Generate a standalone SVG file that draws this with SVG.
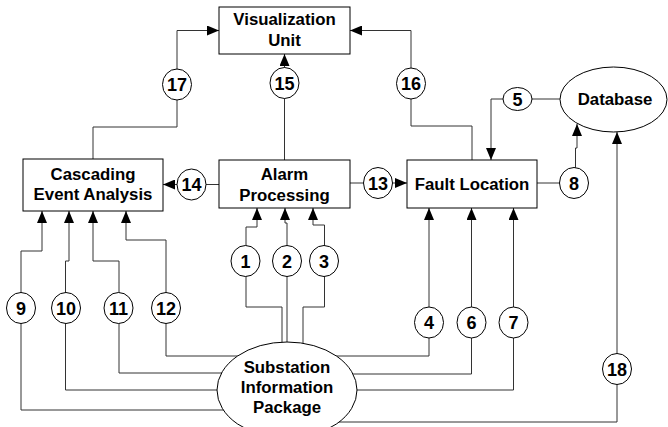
<svg xmlns="http://www.w3.org/2000/svg" width="668" height="427" viewBox="0 0 668 427">
<style>
.box{fill:#fff;stroke:#000;stroke-width:1}
.ell{fill:#fff;stroke:#000;stroke-width:1}
.c{fill:#fff;stroke:#000;stroke-width:1}
.ln{fill:none;stroke:#333;stroke-width:1}
.t{font-family:"Liberation Sans",Arial,sans-serif;font-weight:bold;font-size:16.8px;text-anchor:middle;fill:#000}
.n{font-family:"Liberation Sans",Arial,sans-serif;font-weight:bold;font-size:18px;text-anchor:middle;fill:#000}
</style>
<defs>
<marker id="arr" markerUnits="userSpaceOnUse" markerWidth="12" markerHeight="10" refX="12" refY="5" orient="auto">
<path d="M0 0 L12 5 L0 10 z" fill="#000"/>
</marker>
</defs>
<rect width="668" height="427" fill="#fff"/>
<g id="connectors">
<path class="ln" d="M93 159 V127 H177 V30.5 H219" marker-end="url(#arr)"/>
<path class="ln" d="M284.5 160 V54" marker-end="url(#arr)"/>
<path class="ln" d="M472 160 V126 H411 V30.5 H350" marker-end="url(#arr)"/>
<path class="ln" d="M560 99 H491 V160" marker-end="url(#arr)"/>
<path class="ln" d="M219 184.5 H163" marker-end="url(#arr)"/>
<path class="ln" d="M350 183 H407" marker-end="url(#arr)"/>
<path class="ln" d="M537 183 H575.5 V148 H577 V124" marker-end="url(#arr)"/>
<path class="ln" d="M287 422 H617 V132" marker-end="url(#arr)"/>
<path class="ln" d="M287 410 H21 V251 H42 V211" marker-end="url(#arr)"/>
<path class="ln" d="M287 390 H65.5 V261 H69 V211" marker-end="url(#arr)"/>
<path class="ln" d="M287 373 H119 V261 H93 V211" marker-end="url(#arr)"/>
<path class="ln" d="M287 356 H166 V240 H126 V211" marker-end="url(#arr)"/>
<path class="ln" d="M282 350 V307 H246 V227 H257 V208" marker-end="url(#arr)"/>
<path class="ln" d="M287 350 V223 H285 V208" marker-end="url(#arr)"/>
<path class="ln" d="M303 350 V307 H324.5 V225 H313 V208" marker-end="url(#arr)"/>
<path class="ln" d="M287 356 H429 V208" marker-end="url(#arr)"/>
<path class="ln" d="M287 374 H471.5 V208" marker-end="url(#arr)"/>
<path class="ln" d="M287 390 H513.5 V208" marker-end="url(#arr)"/>
</g>
<g id="visualization-unit">
<rect class="box" x="219" y="7" width="131" height="47"/>
<text class="t" x="284.5" y="25">Visualization</text>
<text class="t" x="284.5" y="46">Unit</text>
</g>
<g id="cascading-event-analysis">
<rect class="box" x="23" y="159" width="140" height="52"/>
<text class="t" x="93" y="180">Cascading</text>
<text class="t" x="93" y="200">Event Analysis</text>
</g>
<g id="alarm-processing">
<rect class="box" x="219" y="160" width="131" height="48"/>
<text class="t" x="284.5" y="180">Alarm</text>
<text class="t" x="284.5" y="201">Processing</text>
</g>
<g id="fault-location">
<rect class="box" x="407" y="160" width="130" height="48"/>
<text class="t" x="472" y="190">Fault Location</text>
</g>
<g id="database">
<ellipse class="ell" cx="613.5" cy="99.5" rx="53.5" ry="32.5"/>
<text class="t" x="615" y="104.5">Database</text>
</g>
<g id="substation-information-package">
<ellipse class="ell" cx="287" cy="390" rx="70" ry="48"/>
<text class="t" x="287" y="373">Substation</text>
<text class="t" x="287" y="393">Information</text>
<text class="t" x="287" y="413">Package</text>
</g>
<g id="label-1"><ellipse class="c" cx="245.5" cy="261" rx="14.5" ry="15.5"/><text class="n" x="245.5" y="267.5">1</text></g>
<g id="label-2"><ellipse class="c" cx="287" cy="261" rx="14.5" ry="15.5"/><text class="n" x="287" y="267.5">2</text></g>
<g id="label-3"><ellipse class="c" cx="324" cy="261" rx="14.5" ry="15.5"/><text class="n" x="324" y="267.5">3</text></g>
<g id="label-4"><ellipse class="c" cx="429" cy="322.5" rx="14.5" ry="15.5"/><text class="n" x="429" y="329">4</text></g>
<g id="label-5"><ellipse class="c" cx="517.5" cy="99" rx="14.5" ry="11.5"/><text class="n" x="517.5" y="105.5">5</text></g>
<g id="label-6"><ellipse class="c" cx="471.5" cy="322.5" rx="14.5" ry="15.5"/><text class="n" x="471.5" y="329">6</text></g>
<g id="label-7"><ellipse class="c" cx="513.5" cy="322.5" rx="14.5" ry="15.5"/><text class="n" x="513.5" y="329">7</text></g>
<g id="label-8"><ellipse class="c" cx="574" cy="183" rx="14.5" ry="15.5"/><text class="n" x="574" y="189.5">8</text></g>
<g id="label-9"><ellipse class="c" cx="21" cy="308" rx="14.5" ry="15.5"/><text class="n" x="21" y="314.5">9</text></g>
<g id="label-10"><ellipse class="c" cx="66" cy="308" rx="14.5" ry="15.5"/><text class="n" x="66" y="314.5">10</text></g>
<g id="label-11"><ellipse class="c" cx="118.5" cy="308" rx="14.5" ry="15.5"/><text class="n" x="118.5" y="314.5">11</text></g>
<g id="label-12"><ellipse class="c" cx="166" cy="308" rx="14.5" ry="15.5"/><text class="n" x="166" y="314.5">12</text></g>
<g id="label-13"><ellipse class="c" cx="378" cy="183" rx="14.5" ry="15.5"/><text class="n" x="378" y="189.5">13</text></g>
<g id="label-14"><ellipse class="c" cx="191.5" cy="184.5" rx="14.5" ry="15.5"/><text class="n" x="191.5" y="191">14</text></g>
<g id="label-15"><ellipse class="c" cx="284.5" cy="83" rx="14.5" ry="15.5"/><text class="n" x="284.5" y="89.5">15</text></g>
<g id="label-16"><ellipse class="c" cx="411" cy="83.5" rx="14.5" ry="15.5"/><text class="n" x="411" y="90">16</text></g>
<g id="label-17"><ellipse class="c" cx="177" cy="84.5" rx="14.5" ry="15.5"/><text class="n" x="177" y="91">17</text></g>
<g id="label-18"><ellipse class="c" cx="617" cy="369" rx="14.5" ry="15.5"/><text class="n" x="617" y="375.5">18</text></g>
</svg>
